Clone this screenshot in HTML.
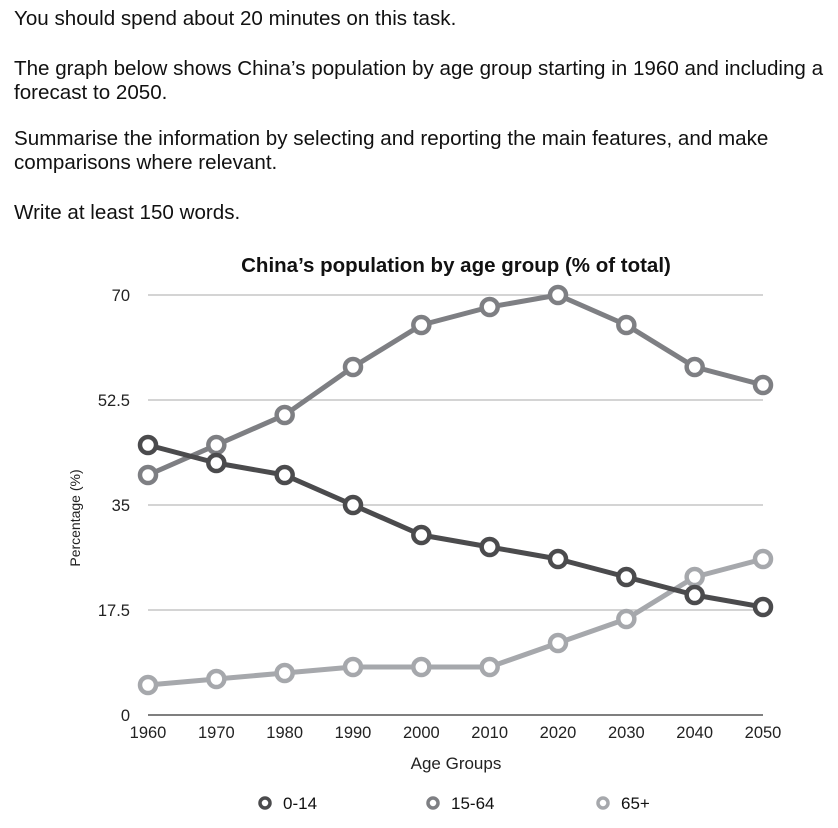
<!DOCTYPE html>
<html><head><meta charset="utf-8"><style>
body{margin:0;background:#fff;width:838px;height:828px;overflow:hidden;font-family:"Liberation Sans",sans-serif;color:#111}
.t{position:absolute;left:14px;font-size:20.6px;line-height:24px;margin:0;white-space:nowrap}
</style></head><body>
<p class="t" style="top:7px">You should spend about 20 minutes on this task.</p>
<p class="t" style="top:57px">The graph below shows China’s population by age group starting in 1960 and including a<br>forecast to 2050.</p>
<p class="t" style="top:127px">Summarise the information by selecting and reporting the main features, and make<br>comparisons where relevant.</p>
<p class="t" style="top:201px">Write at least 150 words.</p>
<svg id="c" width="838" height="828" style="position:absolute;left:0;top:0" font-family="Liberation Sans, sans-serif"></svg>
<script>
const years=[1960,1970,1980,1990,2000,2010,2020,2030,2040,2050];
const s014=[45,42,40,35,30,28,26,23,20,18];
const s1564=[40,45,50,58,65,68,70,65,58,55];
const s65=[5,6,7,8,8,8,12,16,23,26];
const yTicks=[0,17.5,35,52.5,70];
const yTickLabels=["0","17.5","35","52.5","70"];
const seriesNames=["0-14","15-64","65+"];
const NS="http://www.w3.org/2000/svg";
const svg=document.getElementById('c');
const X=y=>148+(y-1960)*(763-148)/90;
const Y=v=>715-v*6;
function mk(t,a,p){const e=document.createElementNS(NS,t);for(const k in a)e.setAttribute(k,a[k]);(p||svg).appendChild(e);return e;}
let t=mk('text',{x:456,y:272,'text-anchor':'middle','font-size':20.5,'font-weight':'bold',fill:'#111'});t.textContent="China’s population by age group (% of total)";


yTicks.forEach((v,i)=>{
 const l=mk('line',{x1:148,x2:763,y1:Y(v),y2:Y(v),stroke:v===0?'#555':'#bbb','stroke-width':v===0?1.5:1.2});
 
 
 const tx=mk('text',{x:130,y:Y(v)+6,'text-anchor':'end','font-size':16.5,fill:'#222'});tx.textContent=yTickLabels[i];
 
 
});
years.forEach(y=>{const tx=mk('text',{x:X(y),y:738,'text-anchor':'middle','font-size':16.5,fill:'#222'});tx.textContent=y;
 
 });
t=mk('text',{x:456,y:769,'text-anchor':'middle','font-size':17,fill:'#222'});t.textContent="Age Groups";


t=mk('text',{x:80,y:518,'text-anchor':'middle','font-size':14,fill:'#222',transform:'rotate(-90 80 518)'});t.textContent="Percentage (%)";


const data=[s1564,s65,s014];const cols=['#7e7f83','#a6a8ac','#4b4b4d'];const names=['series-15-64','series-65-plus','series-0-14'];
data.forEach((d,i)=>{
 const g=mk('g',{});
 
 
 mk('polyline',{points:d.map((v,j)=>X(years[j])+','+Y(v)).join(' '),fill:'none',stroke:cols[i],'stroke-width':5,'stroke-linejoin':'round'},g);
 d.forEach((v,j)=>{const c=mk('circle',{cx:X(years[j]),cy:Y(v),r:8,fill:'#fff',stroke:cols[i],'stroke-width':4.5},g);
  
  });
});
const lc=['#4b4b4d','#7e7f83','#a6a8ac'];const lx=[265,433,603];
seriesNames.forEach((n,i)=>{
 const g=mk('g',{});
 
 
 mk('circle',{cx:lx[i],cy:803,r:5,fill:'#fff',stroke:lc[i],'stroke-width':3.5},g);
 const tx=mk('text',{x:lx[i]+18,y:809,'font-size':17,fill:'#111'},g);tx.textContent=n;
});
</script>
</body></html>
